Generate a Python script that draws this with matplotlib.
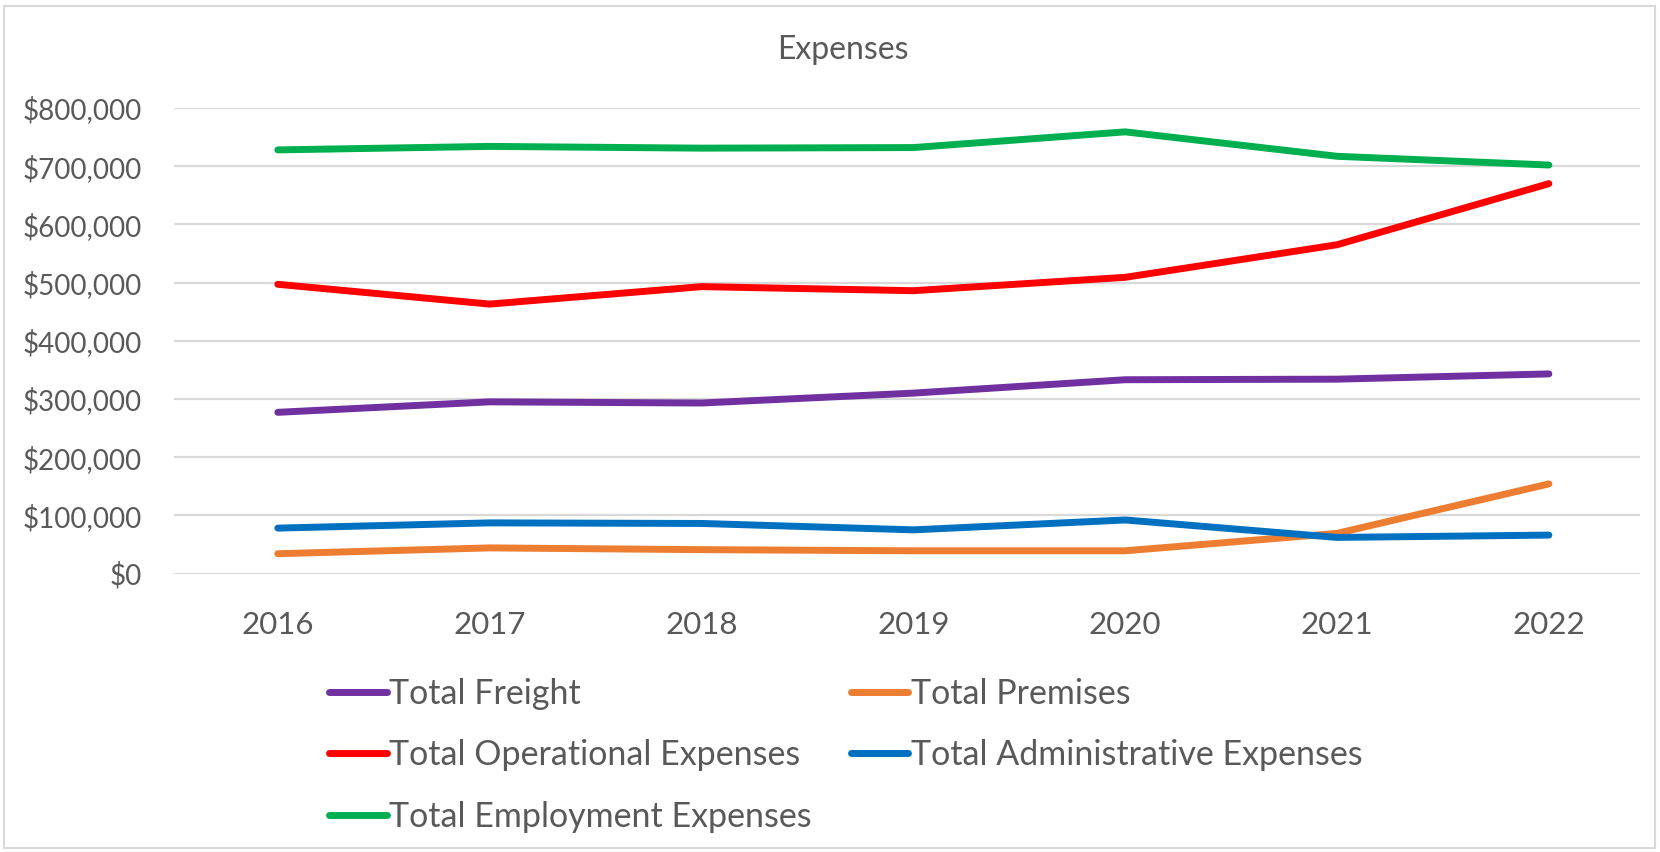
#!/usr/bin/env python3

import matplotlib
matplotlib.use("Agg")
import matplotlib.pyplot as plt
from matplotlib.patches import Rectangle
from matplotlib.ticker import FuncFormatter, MultipleLocator

YEARS = ["2016", "2017", "2018", "2019", "2020", "2021", "2022"]

FREIGHT = [277000, 295000, 293000, 310000, 333000, 334000, 343000]
PREMISES = [34000, 44000, 41000, 39000, 39000, 69000, 154000]
OPERATIONAL = [497000, 463000, 493000, 486000, 509000, 565000, 670000]
ADMINISTRATIVE = [78000, 87000, 86000, 75000, 92000, 62000, 66000]
EMPLOYMENT = [728000, 734000, 731000, 732000, 759000, 717000, 702000]

SERIES = [
    ("Total Freight", FREIGHT, "#7030A0"),
    ("Total Premises", PREMISES, "#ED7D31"),
    ("Total Operational Expenses", OPERATIONAL, "#FF0000"),
    ("Total Administrative Expenses", ADMINISTRATIVE, "#0070C0"),
    ("Total Employment Expenses", EMPLOYMENT, "#00B050"),
]

TEXT_COLOUR = "#595959"
GRID_COLOUR = "#D9D9D9"
W, H = 1660, 852

plt.rcParams["font.family"] = ["Lato", "DejaVu Sans"]


def main():
    fig = plt.figure(figsize=(W / 100, H / 100), dpi=100)
    fig.patch.set_facecolor("white")

    # chart area border
    fig.patches.append(Rectangle((4 / W, 1 - 848 / H), 1651 / W, 842 / H, transform=fig.transFigure,
                                 fill=False, edgecolor=GRID_COLOUR, linewidth=1.5))

    ax = fig.add_axes([174 / W, 1 - 573.5 / H, (1640 - 174) / W, (573.5 - 108) / H])
    x = list(range(len(YEARS)))
    handles = {}
    for name, values, colour in SERIES:
        line, = ax.plot(x, values, color=colour, linewidth=5, solid_capstyle="round",
                        solid_joinstyle="round", label=name, zorder=3)
        handles[name] = line

    ax.set_xlim(-0.49, 6.43)
    ax.set_ylim(0, 800000)
    ax.yaxis.set_major_locator(MultipleLocator(100000))
    ax.yaxis.set_major_formatter(FuncFormatter(lambda v, _: f"${v:,.0f}"))
    ax.set_xticks(x)
    ax.set_xticklabels(YEARS)

    ax.grid(axis="y", color=GRID_COLOUR, linewidth=1.6, zorder=0)
    ax.set_axisbelow(True)
    for spine in ax.spines.values():
        spine.set_visible(False)
    ax.tick_params(axis="y", length=0, pad=23, labelsize=20, labelcolor=TEXT_COLOUR)
    ax.tick_params(axis="x", length=0, pad=27, labelsize=22.5, labelcolor=TEXT_COLOUR)

    fig.text(843 / W, 1 - 50 / H, "Expenses", ha="center", va="center", fontsize=23, color=TEXT_COLOUR)

    # Excel fills legend rows left to right, matplotlib fills columns
    order = ["Total Freight", "Total Operational Expenses", "Total Employment Expenses",
             "Total Premises", "Total Administrative Expenses"]
    leg = fig.legend([handles[n] for n in order], order, loc="upper left",
                     bbox_to_anchor=(329 / W, 1 - 678 / H), ncol=2, frameon=False,
                     fontsize=24.5, handlelength=1.7, handletextpad=0.06,
                     columnspacing=1.15, labelspacing=0.86, borderpad=0, borderaxespad=0)
    for t in leg.get_texts():
        t.set_color(TEXT_COLOUR)

    fig.savefig("out.png", dpi=100, facecolor="white")


if __name__ == "__main__":
    main()
